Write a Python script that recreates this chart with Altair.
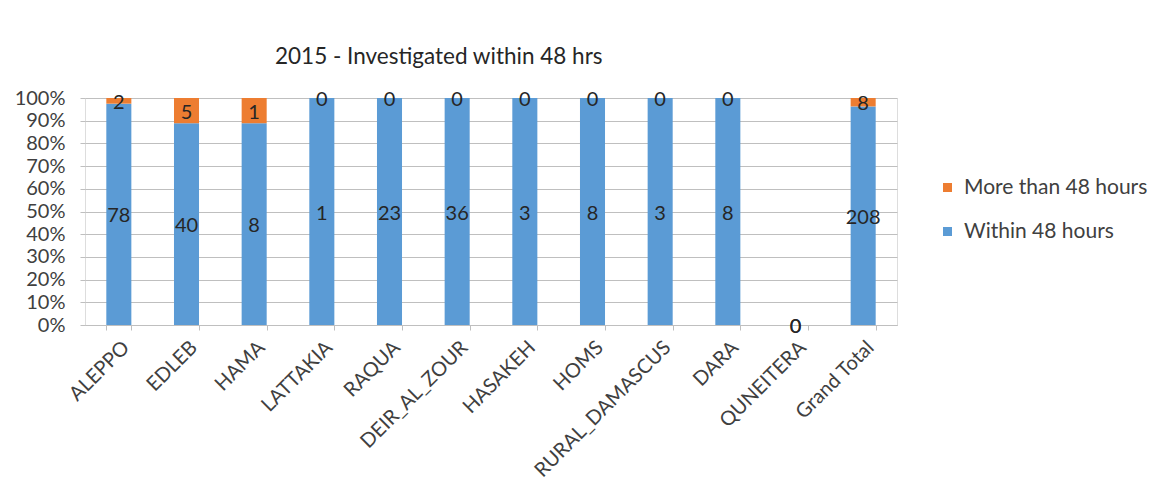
import altair as alt
import pandas as pd

regions = ["ALEPPO", "EDLEB", "HAMA", "LATTAKIA", "RAQUA", "DEIR_AL_ZOUR",
           "HASAKEH", "HOMS", "RURAL_DAMASCUS", "DARA", "QUNEITERA", "Grand Total"]
within = [78, 40, 8, 1, 23, 36, 3, 8, 3, 8, 0, 208]
more = [2, 5, 1, 0, 0, 0, 0, 0, 0, 0, 0, 8]
series = ["Within 48 hours", "More than 48 hours"]
legend_order = ["More than 48 hours", "Within 48 hours"]
legend_colors = ["#ED7D31", "#5B9BD5"]
y_ticks = [0, 0.1, 0.2, 0.3, 0.4, 0.5, 0.6, 0.7, 0.8, 0.9, 1.0]

rows = []
for r, w, m in zip(regions, within, more):
    tot = w + m
    pw = w / tot if tot else 0
    pm = m / tot if tot else 0
    rows.append(dict(region=r, series=series[0], count=w, y0=0.0, y1=pw))
    rows.append(dict(region=r, series=series[1], count=m, y0=pw, y1=pw + pm))
df = pd.DataFrame(rows)

FONT = "Lato"
TXT = "#404040"

x_axis = alt.Axis(title=None, labelAngle=-45, labelAlign="right", labelBaseline="top",
                  tickBand="extent", tickSize=5, tickColor="#BFBFBF", domainColor="#BFBFBF",
                  labelFontSize=20, labelColor=TXT, labelFont=FONT, labelPadding=7,
                  labelOverlap=False, labelLimit=400, grid=False)
y_axis = alt.Axis(title=None, format=".0%", values=y_ticks, domain=False,
                  tickSize=5, tickColor="#BFBFBF", gridColor="#BFBFBF",
                  labelFontSize=20, labelColor=TXT, labelFont=FONT, labelPadding=15,
                  labelOverlap=False)
x_scale = alt.Scale(paddingInner=0.63, paddingOuter=0.315)
y_scale = alt.Scale(domain=[0, 1], nice=False)

base = alt.Chart(df)

bars = base.mark_bar().encode(
    x=alt.X("region:N", sort=regions, scale=x_scale, axis=x_axis),
    y=alt.Y("y0:Q", scale=y_scale, axis=y_axis),
    y2="y1:Q",
    color=alt.Color("series:N",
                    scale=alt.Scale(domain=legend_order, range=legend_colors),
                    legend=alt.Legend(title=None, orient="none", legendX=852, legendY=79,
                                      symbolType="square", symbolSize=81, symbolStrokeWidth=0,
                                      labelFontSize=21, labelFont=FONT, labelColor=TXT,
                                      labelOffset=6, rowPadding=22, labelLimit=400)),
)

labels = base.transform_calculate(mid="(datum.y0 + datum.y1) / 2").mark_text(
    fontSize=20, font=FONT, color="#262626", baseline="middle", align="center", dy=2
).encode(
    x=alt.X("region:N", sort=regions, scale=x_scale, axis=x_axis),
    y=alt.Y("mid:Q", scale=y_scale, axis=y_axis),
    text=alt.Text("count:Q"),
)

chart = (bars + labels).properties(
    width=812, height=227,
    title=alt.TitleParams("2015 - Investigated within 48 hrs", anchor="start", frame="group",
                          dx=190, offset=20, fontSize=22.5, fontWeight="normal", font=FONT,
                          color="#262626"),
    autosize=alt.AutoSizeParams(type="none"),
    padding={"left": 77, "top": 90, "right": 250, "bottom": 170},
).configure_view(stroke=None).configure(background="white")

chart.save("out.html", embed_options={"renderer": "svg", "actions": False})
